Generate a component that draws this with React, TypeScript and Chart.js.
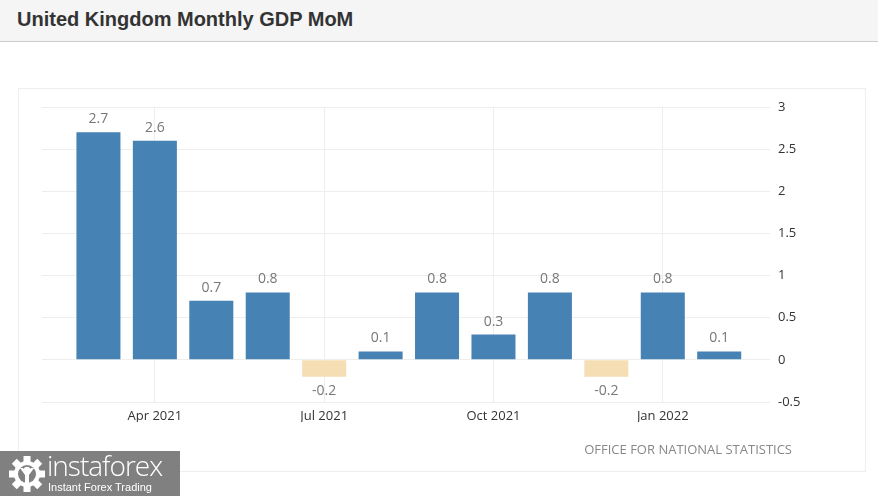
import React, { useEffect, useRef } from "react";
import { Chart, registerables } from "chart.js";

Chart.register(...registerables);

const months = [
  "Mar 2021", "Apr 2021", "May 2021", "Jun 2021", "Jul 2021", "Aug 2021",
  "Sep 2021", "Oct 2021", "Nov 2021", "Dec 2021", "Jan 2022", "Feb 2022",
];
const gdpMoM = [2.7, 2.6, 0.7, 0.8, -0.2, 0.1, 0.8, 0.3, 0.8, -0.2, 0.8, 0.1];
const xTickLabels = ["Apr 2021", "Jul 2021", "Oct 2021", "Jan 2022"];
const yTickValues = [-0.5, 0, 0.5, 1, 1.5, 2, 2.5, 3];

const POS_COLOR = "#4682B4";
const NEG_COLOR = "#F5DEB3";
const FONT = '"Open Sans", "DejaVu Sans", sans-serif';

const valueLabels = {
  id: "valueLabels",
  afterDatasetsDraw(chart: any) {
    const ctx = chart.ctx;
    const meta = chart.getDatasetMeta(0);
    ctx.save();
    ctx.font = `14px ${FONT}`;
    ctx.fillStyle = "#777777";
    ctx.textAlign = "center";
    ctx.textBaseline = "alphabetic";
    meta.data.forEach((bar: any, i: number) => {
      const v = gdpMoM[i];
      const base = chart.scales.y.getPixelForValue(0);
      if (v >= 0) {
        ctx.fillText(String(v), bar.x, Math.min(bar.y, base) - 9);
      } else {
        ctx.fillText(String(v), bar.x, Math.max(bar.y, base) + 18);
      }
    });
    ctx.restore();
  },
};

function Gear() {
  const teeth = [];
  for (let k = 0; k < 8; k++) {
    teeth.push(
      <rect
        key={k}
        x={-3.5}
        y={-18}
        width={7}
        height={7}
        fill="#fff"
        transform={`rotate(${k * 45})`}
      />
    );
  }
  return (
    <svg width="40" height="40" viewBox="-20 -20 40 40" style={{ position: "absolute", left: 7, top: 3 }}>
      {teeth}
      <circle r="13" fill="#fff" />
      <circle r="9" fill="#808080" />
      <circle cx="0" cy="-4" r="3.2" fill="#fff" />
      <path d="M-7,-6 L-2,1 L-2,12 L2,12 L2,1 L7,-6 L4,-6 L0,-1 L-4,-6 Z" fill="#fff" />
    </svg>
  );
}

export default function App() {
  const canvasRef = useRef<HTMLCanvasElement | null>(null);

  useEffect(() => {
    document.body.style.margin = "0";
    const canvas = canvasRef.current;
    if (!canvas) return;
    const chart = new Chart(canvas, {
      type: "bar",
      data: {
        datasets: [
          {
            label: "GDP MoM",
            data: months.map((m, i) => ({ x: i, y: gdpMoM[i] })),
            backgroundColor: (c: any) => (gdpMoM[c.dataIndex] < 0 ? NEG_COLOR : POS_COLOR),
            borderWidth: 0,
            categoryPercentage: 0.78,
            barPercentage: 1,
          },
        ],
      },
      options: {
        responsive: false,
        animation: false,
        devicePixelRatio: 1,
        layout: { padding: { left: 42, top: 107, right: 58, bottom: 74 } },
        plugins: {
          legend: { display: false },
          tooltip: { enabled: false },
        },
        scales: {
          x: {
            type: "linear",
            offset: false,
            min: -1,
            max: 11.9,
            grid: { color: "#eeeeee", drawTicks: false, offset: false },
            border: { display: false },
            afterBuildTicks: (scale: any) => {
              scale.ticks = xTickLabels.map((l) => ({ value: months.indexOf(l) }));
            },
            afterFit: (scale: any) => {
              scale.height = 20;
            },
            ticks: {
              padding: 6,
              color: "#333333",
              font: { family: FONT, size: 13 },
              maxRotation: 0,
              autoSkip: false,
              callback: (v: any) => months[v as number],
            },
          },
          y: {
            position: "right",
            min: -0.5,
            max: 3,
            grid: { color: "#eeeeee", drawTicks: false },
            border: { display: false },
            afterBuildTicks: (scale: any) => {
              scale.ticks = yTickValues.map((v) => ({ value: v }));
            },
            afterFit: (scale: any) => {
              scale.width = 50;
            },
            ticks: {
              padding: 8,
              color: "#333333",
              font: { family: FONT, size: 13 },
              callback: (v: any) => String(v),
            },
          },
        },
      },
      plugins: [valueLabels],
    } as any);
    return () => chart.destroy();
  }, []);

  return (
    <div style={{ position: "relative", width: 878, height: 496, background: "#fff", overflow: "hidden" }}>
      <div
        style={{
          position: "absolute", left: 0, top: 0, width: 878, height: 41,
          background: "#f5f5f5", borderBottom: "1px solid #cccccc",
        }}
      />
      <div
        style={{
          position: "absolute", left: 17, top: 9, fontFamily: '"Liberation Sans", Arial, sans-serif',
          fontWeight: "bold", fontSize: 20, lineHeight: "20px", color: "#333333", whiteSpace: "nowrap",
        }}
      >
        United Kingdom Monthly GDP MoM
      </div>
      <div
        style={{
          position: "absolute", left: 18, top: 88, width: 846, height: 382,
          border: "1px solid #eeeeee", background: "#fff",
        }}
      />
      <canvas ref={canvasRef} width={878} height={496} style={{ position: "absolute", left: 0, top: 0 }} />
      <div
        style={{
          position: "absolute", right: 86, top: 441, fontFamily: FONT, fontSize: 13,
          lineHeight: "17px", color: "#888888", whiteSpace: "nowrap",
        }}
      >
        OFFICE FOR NATIONAL STATISTICS
      </div>
      <div style={{ position: "absolute", left: 0, top: 451, width: 180, height: 45, background: "#808080" }}>
        <Gear />
        <div
          style={{
            position: "absolute", left: 47, top: -3, fontFamily: FONT, fontWeight: 300,
            fontSize: 28, lineHeight: "34px", color: "#fff", whiteSpace: "nowrap", letterSpacing: -1,
          }}
        >
          instaforex
        </div>
        <div
          style={{
            position: "absolute", left: 48, top: 30, fontFamily: '"Liberation Sans", Arial, sans-serif',
            fontSize: 11, lineHeight: "13px", color: "#fff", whiteSpace: "nowrap",
          }}
        >
          Instant Forex Trading
        </div>
      </div>
    </div>
  );
}
